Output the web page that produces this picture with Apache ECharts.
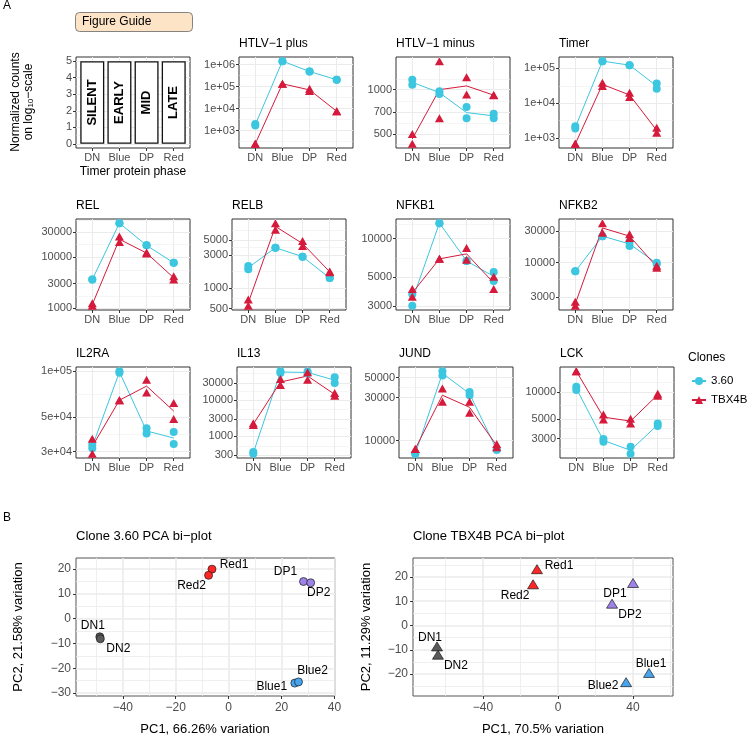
<!DOCTYPE html>
<html><head><meta charset="utf-8">
<script src="https://cdn.jsdelivr.net/npm/echarts@6/dist/echarts.min.js"></script>
<style>html,body{margin:0;padding:0;background:#fff}#c{width:750px;height:738px}</style>
</head><body><div id="c"></div>
<script>
// ================= DATA =================
const phases = ['DN', 'Blue', 'DP', 'Red'];
const clones = ['3.60', 'TBX4B'];
const guideStages = ['SILENT', 'EARLY', 'MID', 'LATE'];
const guideHeights = [5, 5, 5, 5];
const guideTicks = [0, 1, 2, 3, 4, 5];

// replicate values per phase (DN, Blue, DP, Red): [rep1, rep2]
const HTLVplus_360   = [[2000, 1700], [1.45e6, 1.45e6], [4.9e5, 4.9e5], [2.05e5, 2.05e5]];
const HTLVplus_TBX4B = [[250, 250], [1.35e5, 1.35e5], [8.0e4, 6.3e4], [7.6e3, 7.6e3]];
const HTLVplus_breaks = [1e3, 1e4, 1e5, 1e6];
const HTLVplus_labels = ['1e+03', '1e+04', '1e+05', '1e+06'];

const HTLVminus_360   = [[1166, 1080], [975, 934], [762, 640], [687, 640]];
const HTLVminus_TBX4B = [[500, 428], [1563, 640], [1214, 926], [920, 915]];
const HTLVminus_breaks = [500, 700, 1000];
const HTLVminus_labels = ['500', '700', '1000'];

const Timer_360   = [[2170, 1860], [1.62e5, 1.62e5], [1.24e5, 1.24e5], [3.7e4, 2.6e4]];
const Timer_TBX4B = [[670, 670], [3.85e4, 3.1e4], [1.98e4, 1.49e4], [1940, 1390]];
const Timer_breaks = [1e3, 1e4, 1e5];
const Timer_labels = ['1e+03', '1e+04', '1e+05'];

const REL_360   = [[3630, 3630], [45600, 45600], [16800, 16800], [7660, 7660]];
const REL_TBX4B = [[1250, 1110], [25100, 19500], [12200, 11600], [4200, 3640]];
const REL_breaks = [1000, 3000, 10000, 30000];
const REL_labels = ['1000', '3000', '10000', '30000'];

const RELB_360   = [[2100, 1880], [3880, 3880], [2870, 2870], [1400, 1400]];
const RELB_TBX4B = [[680, 550], [8850, 7110], [4840, 4100], [1750, 1700]];
const RELB_breaks = [500, 1000, 3000, 5000];
const RELB_labels = ['500', '1000', '3000', '5000'];

const NFKB1_360   = [[3010, 3700], [13200, 13200], [6720, 6720], [5520, 4700]];
const NFKB1_TBX4B = [[4060, 3540], [6970, 6970], [8460, 6870], [5060, 4060]];
const NFKB1_breaks = [3000, 5000, 10000];
const NFKB1_labels = ['3000', '5000', '10000'];

const NFKB2_360   = [[7330, 7330], [25200, 25200], [20500, 17900], [9900, 9500]];
const NFKB2_TBX4B = [[2520, 2180], [39800, 28300], [27000, 23600], [8900, 8300]];
const NFKB2_breaks = [3000, 10000, 30000];
const NFKB2_labels = ['3000', '10000', '30000'];

const IL2RA_360   = [[33200, 31600], [100000, 97500], [42500, 39300], [40200, 33600]];
const IL2RA_TBX4B = [[36300, 29000], [64700, 64700], [87900, 72700], [62100, 48800]];
const IL2RA_breaks = [30000, 50000, 100000];
const IL2RA_labels = ['3e+04', '5e+04', '1e+05'];

const IL13_360   = [[370, 330], [64000, 57000], [63000, 55000], [43100, 30000]];
const IL13_TBX4B = [[2300, 2080], [38700, 26400], [59500, 37100], [15900, 13300]];
const IL13_breaks = [300, 1000, 3000, 10000, 30000];
const IL13_labels = ['300', '1000', '3000', '10000', '30000'];

const JUND_360   = [[7130, 7130], [59200, 53000], [34700, 31900], [7900, 7900]];
const JUND_TBX4B = [[8100, 8100], [37900, 27000], [27000, 20400], [9200, 8460]];
const JUND_breaks = [10000, 30000, 50000];
const JUND_labels = ['10000', '30000', '50000'];

const LCK_360   = [[11500, 10600], [2950, 2750], [2420, 2010], [4440, 4140]];
const LCK_TBX4B = [[17300, 17300], [5580, 4910], [5000, 4440], [9580, 9100]];
const LCK_breaks = [3000, 5000, 10000];
const LCK_labels = ['3000', '5000', '10000'];

// PCA
const pcaSamples = ['DN1', 'DN2', 'Blue1', 'Blue2', 'DP1', 'DP2', 'Red1', 'Red2'];
const pca360_PC1 = [-48.7, -48.5, 25.0, 26.4, 28.3, 31.0, -6.3, -7.6];
const pca360_PC2 = [-7.3, -8.1, -26.0, -25.5, 15.0, 14.5, 20.0, 17.5];
const pcaTBX_PC1 = [-64.5, -64.0, 48.5, 36.3, 40.0, 28.8, -11.2, -13.3];
const pcaTBX_PC2 = [-8.6, -12.0, -19.5, -23.3, 17.5, 9.0, 23.2, 17.0];
const pca360_xTicks = [-40, -20, 0, 20, 40];
const pca360_yTicks = [-30, -20, -10, 0, 10, 20];
const pcaTBX_xTicks = [-40, 0, 40];
const pcaTBX_yTicks = [-20, -10, 0, 10, 20];

// ================= STYLE / LAYOUT =================
const FONT = "'Liberation Sans', Arial, Helvetica, sans-serif";
const CYAN = '#3cc6e0', RED = '#d51a3c';
const phaseColors = { DN: '#5a5a5a', Blue: '#47a5f0', DP: '#9d83e8', Red: '#ff2626' };
const PW = 114, PH = 91;
const labelOff360 = { DN1: [-7, -11], DN2: [18, 10], Red1: [22, -4], Red2: [-17, 10], DP1: [-18, -10], DP2: [8, 10], Blue2: [14, -11], Blue1: [-23, 4] };
const labelOffTBX = { DN1: [-7, -9], DN2: [18, 11], Red1: [22, -3], Red2: [-18, 11], DP1: [-18, 11], DP2: [18, 11], Blue1: [2, -9], Blue2: [-23, 4] };

const grids = [], xAxes = [], yAxes = [], series = [], titles = [], graphics = [];

function minorBreaks(b0, lo, hi) {
  const b = b0.slice();
  const bd = b[1] - b[0];
  if (lo < b[0]) b.unshift(b[0] - bd);
  if (hi > b[b.length - 1]) b.push(b[b.length - 1] + bd);
  const out = [];
  for (let i = 0; i < b.length - 1; i++) out.push((b[i] + b[i + 1]) / 2);
  return out.filter(v => v > lo && v < hi);
}

function addPanel(o) {
  const gi = grids.length;
  grids.push({ left: o.left, top: o.top, width: o.width, height: o.height, show: true,
    borderColor: o.border || '#333', borderWidth: 1, backgroundColor: 'transparent' });
  const mw = o.majorW || 1, nw = o.minorW || 0.5;
  const xi = xAxes.length;
  xAxes.push({ type: 'value', gridIndex: gi, min: o.xMin, max: o.xMax, z: 1, position: 'bottom',
    axisLine: { show: false, onZero: false },
    axisTick: { show: true, length: 3, lineStyle: { color: '#333', width: 1 }, customValues: o.xMajor },
    axisLabel: { customValues: o.xMajor, formatter: o.xFmt, color: '#4d4d4d', fontSize: o.fs, fontFamily: FONT, margin: o.xMargin || 4 },
    splitLine: { show: true, lineStyle: { color: '#ebebeb', width: mw } } });
  if (o.xMinor && o.xMinor.length) {
    xAxes.push({ type: 'value', gridIndex: gi, min: o.xMin, max: o.xMax, z: 0, position: 'top',
      axisLine: { show: false, onZero: false }, axisTick: { show: false, customValues: o.xMinor },
      axisLabel: { show: false, customValues: o.xMinor },
      splitLine: { show: true, lineStyle: { color: '#ebebeb', width: nw } } });
  }
  const yi = yAxes.length;
  yAxes.push({ type: 'value', gridIndex: gi, min: o.yMin, max: o.yMax, z: 1, position: 'left',
    axisLine: { show: false, onZero: false },
    axisTick: { show: true, length: 3, lineStyle: { color: '#333', width: 1 }, customValues: o.yMajor },
    axisLabel: { customValues: o.yMajor, formatter: o.yFmt, color: '#4d4d4d', fontSize: o.fs, fontFamily: FONT, margin: o.yMargin || 4 },
    splitLine: { show: true, lineStyle: { color: '#ebebeb', width: mw } } });
  if (o.yMinor && o.yMinor.length) {
    yAxes.push({ type: 'value', gridIndex: gi, min: o.yMin, max: o.yMax, z: 0, position: 'right',
      axisLine: { show: false, onZero: false }, axisTick: { show: false, customValues: o.yMinor },
      axisLabel: { show: false, customValues: o.yMinor },
      splitLine: { show: true, lineStyle: { color: '#ebebeb', width: nw } } });
  }
  return { gi, xi, yi };
}

function addTitle(text, left, top, size) {
  titles.push({ text, left, top, padding: 0,
    textStyle: { fontSize: size || 12, fontWeight: 'normal', color: '#000', fontFamily: FONT } });
}

const phaseIdx = phases.map((p, i) => i + 1);
const catFmt = v => phases[Math.round(v) - 1] || '';

function genePanel(title, left, top, reps360, repsTBX, breaks, labels) {
  const logs = breaks.map(Math.log10);
  const all = reps360.concat(repsTBX).flat().map(Math.log10);
  const lo0 = Math.min(...all), hi0 = Math.max(...all), pad = (hi0 - lo0) * 0.05;
  const lo = lo0 - pad, hi = hi0 + pad;
  const p = addPanel({ left, top, width: PW, height: PH, xMin: 0.4, xMax: 4.6, xMajor: phaseIdx, xFmt: catFmt,
    yMin: lo, yMax: hi, yMajor: logs.filter(v => v >= lo && v <= hi), yMinor: minorBreaks(logs, lo, hi),
    yFmt: v => { const i = logs.findIndex(l => Math.abs(l - v) < 1e-9); return i >= 0 ? labels[i] : ''; }, fs: 11 });
  addTitle(title, left, top - 19, 12);
  const specs = [[clones[0], reps360, CYAN, 'circle', 8], [clones[1], repsTBX, RED, 'triangle', [9, 8]]];
  specs.forEach(([name, reps, color, sym]) => {
    const means = reps.map((r, i) => [i + 1, (Math.log10(r[0]) + Math.log10(r[1])) / 2]);
    series.push({ type: 'line', name, xAxisIndex: p.xi, yAxisIndex: p.yi, data: means, symbol: sym, showSymbol: false,
      lineStyle: { color, width: 1 }, itemStyle: { color }, z: 2, silent: true });
  });
  specs.forEach(([name, reps, color, sym, size]) => {
    const pts = [];
    reps.forEach((r, i) => r.forEach(v => pts.push([i + 1, Math.log10(v)])));
    series.push({ type: 'scatter', name, xAxisIndex: p.xi, yAxisIndex: p.yi, data: pts, symbol: sym, symbolSize: size,
      itemStyle: { color, opacity: 1 }, z: 3 });
  });
}

// ---- guide panel ----
(function () {
  const p = addPanel({ left: 76, top: 57, width: PW, height: PH, xMin: 0.4, xMax: 4.6, xMajor: phaseIdx, xFmt: catFmt,
    yMin: -0.25, yMax: 5.25, yMajor: guideTicks, yMinor: minorBreaks(guideTicks, -0.25, 5.25), yFmt: v => String(v), fs: 11 });
  series.push({ type: 'bar', name: 'guide', xAxisIndex: p.xi, yAxisIndex: p.yi, barWidth: 24,
    data: guideHeights.map((h, i) => [i + 1, h]),
    itemStyle: { color: '#fff', borderColor: '#111', borderWidth: 1.3 },
    label: { show: true, position: 'inside', rotate: 90, formatter: q => guideStages[q.dataIndex],
      fontWeight: 'bold', fontSize: 13, color: '#000', fontFamily: FONT }, z: 3, silent: true });
})();

genePanel('HTLV\u22121 plus', 239, 57, HTLVplus_360, HTLVplus_TBX4B, HTLVplus_breaks, HTLVplus_labels);
genePanel('HTLV\u22121 minus', 396, 57, HTLVminus_360, HTLVminus_TBX4B, HTLVminus_breaks, HTLVminus_labels);
genePanel('Timer', 559, 57, Timer_360, Timer_TBX4B, Timer_breaks, Timer_labels);
genePanel('REL', 76, 219, REL_360, REL_TBX4B, REL_breaks, REL_labels);
genePanel('RELB', 232, 219, RELB_360, RELB_TBX4B, RELB_breaks, RELB_labels);
genePanel('NFKB1', 396, 219, NFKB1_360, NFKB1_TBX4B, NFKB1_breaks, NFKB1_labels);
genePanel('NFKB2', 559, 219, NFKB2_360, NFKB2_TBX4B, NFKB2_breaks, NFKB2_labels);
genePanel('IL2RA', 76, 367, IL2RA_360, IL2RA_TBX4B, IL2RA_breaks, IL2RA_labels);
genePanel('IL13', 237, 367, IL13_360, IL13_TBX4B, IL13_breaks, IL13_labels);
genePanel('JUND', 399, 367, JUND_360, JUND_TBX4B, JUND_breaks, JUND_labels);
genePanel('LCK', 560, 367, LCK_360, LCK_TBX4B, LCK_breaks, LCK_labels);

// ---- PCA panels ----
const signFmt = v => (v < 0 ? '\u2212' : '') + Math.abs(v);
function pcaPanel(title, left, width, xr, yr, xT, yT, pc1, pc2, symbol, size, offs) {
  const p = addPanel({ left, top: 558, width, height: 138, xMin: xr[0], xMax: xr[1], xMajor: xT, xMinor: minorBreaks(xT, xr[0], xr[1]),
    yMin: yr[0], yMax: yr[1], yMajor: yT, yMinor: minorBreaks(yT, yr[0], yr[1]), xFmt: signFmt, yFmt: signFmt, fs: 12,
    border: '#555', majorW: 1.6, minorW: 0.8, xMargin: 6, yMargin: 5 });
  addTitle(title, left, 530, 13);
  phases.forEach(ph => {
    const data = [];
    pcaSamples.forEach((s, i) => {
      if (s.replace(/\d+$/, '') === ph) data.push({ name: s, value: [pc1[i], pc2[i]], label: { offset: offs[s] } });
    });
    series.push({ type: 'scatter', name: 'pca_' + ph, xAxisIndex: p.xi, yAxisIndex: p.yi, data, symbol, symbolSize: size,
      itemStyle: { color: phaseColors[ph], borderColor: '#1a1a1a', borderWidth: 0.7, opacity: 1 },
      label: { show: true, position: 'inside', formatter: '{b}', color: '#000', fontSize: 12, fontFamily: FONT, textBorderWidth: 0 },
      z: 3 });
  });
}
pcaPanel('Clone 3.60 PCA bi\u2212plot', 76, 259, [-57.7, 40.2], [-31.2, 24.5], pca360_xTicks, pca360_yTicks,
  pca360_PC1, pca360_PC2, 'circle', 8, labelOff360);
pcaPanel('Clone TBX4B PCA bi\u2212plot', 413, 260, [-77.3, 61.3], [-29.0, 27.8], pcaTBX_xTicks, pcaTBX_yTicks,
  pcaTBX_PC1, pcaTBX_PC2, 'triangle', [11, 9], labelOffTBX);

// ---- misc text ----
addTitle('Clones', 688, 352, 12);
titles.push({ text: 'Figure Guide', left: 75, top: 12, padding: [4, 41, 4, 7], backgroundColor: '#fde4c6',
  borderColor: '#666', borderWidth: 0.8, borderRadius: 4,
  textStyle: { fontSize: 12, fontWeight: 'normal', color: '#000', fontFamily: FONT } });

function gtext(text, x, y, size, rot, rich) {
  graphics.push({ type: 'text', x, y, rotation: rot || 0, silent: true,
    style: { text, fontSize: size, fontFamily: FONT, fill: '#000', align: 'center', verticalAlign: 'middle', rich } });
}
graphics.push({ type: 'text', left: 3, top: 0, silent: true, style: { text: 'A', fontSize: 12, fontFamily: FONT, fill: '#000' } });
graphics.push({ type: 'text', left: 3, top: 512, silent: true, style: { text: 'B', fontSize: 12, fontFamily: FONT, fill: '#000' } });
gtext('{a|Normalized counts}\n{a|on log}{s|10}{a|\u2212scale}', 22, 102, 12, Math.PI / 2,
  { a: { fontSize: 12, fontFamily: FONT, fill: '#000', lineHeight: 13 }, s: { fontSize: 8, fontFamily: FONT, fill: '#000', verticalAlign: 'bottom', lineHeight: 13 } });
gtext('Timer protein phase', 133, 172, 12, 0);
gtext('PC1, 66.26% variation', 205, 729, 13, 0);
gtext('PC1, 70.5% variation', 543, 729, 13, 0);
gtext('PC2, 21.58% variation', 18, 627, 13, Math.PI / 2);
gtext('PC2, 11.29% variation', 366, 627, 13, Math.PI / 2);

const chart = echarts.init(document.getElementById('c'), null, { renderer: 'canvas' });
chart.setOption({
  animation: false,
  backgroundColor: '#fff',
  textStyle: { fontFamily: FONT },
  title: titles,
  grid: grids,
  xAxis: xAxes,
  yAxis: yAxes,
  legend: { data: clones, orient: 'vertical', left: 686, top: 370, itemWidth: 14, itemHeight: 10, itemGap: 7,
    selectedMode: false, textStyle: { fontSize: 11.5, fontFamily: FONT, color: '#000', lineHeight: 10 } },
  series,
  graphic: graphics
});
</script></body></html>
